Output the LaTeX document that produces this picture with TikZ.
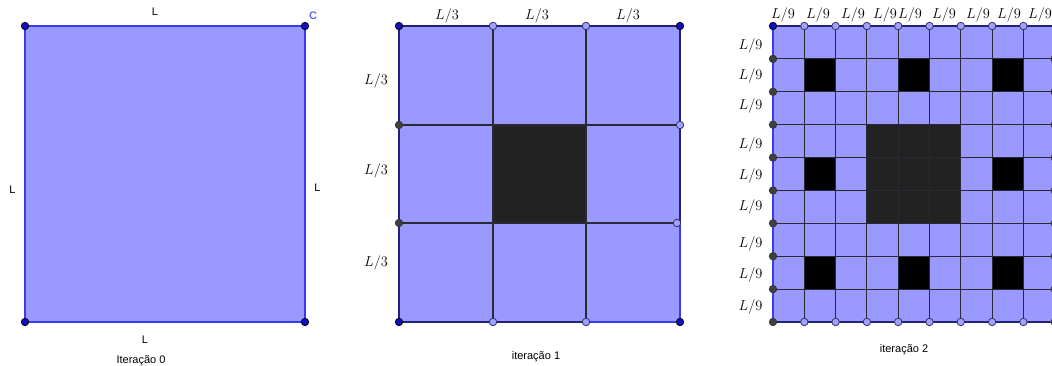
\documentclass[tikz,border=0pt]{standalone}
\usepackage{fontspec}
\setsansfont{Liberation Sans}
\definecolor{fillc}{HTML}{9999FF}
\definecolor{gridc}{HTML}{2A2A36}
\definecolor{edgeblue}{HTML}{3A3AF5}
\definecolor{edgenavy}{HTML}{22227A}
\definecolor{ptbluec}{HTML}{1010C0}
\definecolor{ptlightc}{HTML}{A0A0FF}
\definecolor{ptlighte}{HTML}{333366}
\definecolor{ptdarkc}{HTML}{404040}
\definecolor{darkc}{HTML}{222222}
\definecolor{labc}{HTML}{6666FF}
\begin{document}
\begin{tikzpicture}[x=1pt,y=-1pt,
  sqfill/.style={fill=fillc},
  gridline/.style={draw=gridc, line width=1.1pt},
  blueedge/.style={draw=edgeblue, line width=1.8pt},
  navyedge/.style={draw=edgenavy, line width=1.8pt},
  ptblue/.style={circle, fill=ptbluec, draw=black, line width=0.7pt, inner sep=0pt, minimum size=7.5pt},
  ptlight/.style={circle, fill=ptlightc, draw=ptlighte, line width=0.8pt, inner sep=0pt, minimum size=7.5pt},
  ptdark/.style={circle, fill=ptdarkc, draw=black!80, line width=0.7pt, inner sep=0pt, minimum size=7.5pt},
  sans/.style={font=\sffamily\fontsize{11}{13}\selectfont, inner sep=0pt},
  mlab/.style={font=\fontsize{13.7}{16}\selectfont, inner sep=0pt},
]
\useasboundingbox (0,0) rectangle (1052,366);
\clip (0,0) rectangle (1052,366);

% ---------------- Iteration 0 ----------------
\fill[sqfill] (25,26) rectangle (305,322);
\draw[blueedge] (25,26) rectangle (305,322);
\node[ptblue] (a0) at (25,26) {};
\node[ptblue] (b0) at (305,26) {};
\node[ptblue] (c0) at (25,322) {};
\node[ptblue] (d0) at (305,322) {};
\node[sans] (l0t) at (155,12) {L};
\node[sans, text=labc, font=\sffamily\bfseries\fontsize{11}{13}\selectfont] (l0c) at (313,16) {C};
\node[sans] (l0l) at (12.5,190) {L};
\node[sans] (l0r) at (317.5,188) {L};
\node[sans] (l0b) at (145,340) {L};
\node[sans] (cap0) at (141,360.5) {Iteração 0};

% ---------------- Iteration 1 ----------------
\fill[sqfill] (399,26) rectangle (680,322);
\fill[darkc] (493,125) rectangle (586,223);
\foreach \x in {493,586} \draw[gridline] (\x,26) -- (\x,322);
\foreach \y in {125,223} \draw[gridline] (399,\y) -- (680,\y);
\draw[navyedge] (399,322) -- (399,26) -- (680,26) -- (680,223);
\draw[blueedge] (680,223) -- (680,322);
\draw[navyedge] (399,322) -- (586,322);
\draw[blueedge] (586,322) -- (680,322);
\node[ptblue] (a1) at (399,26) {};
\node[ptblue] (b1) at (680,26) {};
\node[ptblue] (c1) at (399,322) {};
\node[ptblue] (d1) at (680,322) {};
\node[ptlight] (t1a) at (493,26) {};
\node[ptlight] (t1b) at (586,26) {};
\node[ptlight] (b1a) at (493,322) {};
\node[ptlight] (b1b) at (586,322) {};
\node[ptdark] (l1a) at (399,125) {};
\node[ptdark] (l1b) at (399,223) {};
\node[ptlight] (r1a) at (680,125) {};
\node[ptlight] (r1b) at (677,223) {};
\node[mlab] (t1l1) at (447,16) {$L/3$};
\node[mlab] (t1l2) at (537,16) {$L/3$};
\node[mlab] (t1l3) at (628,16) {$L/3$};
\node[mlab] (l1l1) at (376,80.5) {$L/3$};
\node[mlab] (l1l2) at (376,171) {$L/3$};
\node[mlab] (l1l3) at (376,263) {$L/3$};
\node[sans] (cap1) at (536,356.5) {iteração 1};

% ---------------- Iteration 2 ----------------
\fill[sqfill] (773,26) rectangle (1055,322);
\fill[darkc] ({773+3*31.3},{26+3*32.89}) rectangle ({773+6*31.3},{26+6*32.89});
\foreach \i in {1,4,7}{
  \foreach \j in {1,4,7}{
    \ifnum\i=4 \ifnum\j=4 \else
      \fill[black] ({773+\i*31.3},{26+\j*32.89}) rectangle ({773+(\i+1)*31.3},{26+(\j+1)*32.89});
    \fi\else
      \fill[black] ({773+\i*31.3},{26+\j*32.89}) rectangle ({773+(\i+1)*31.3},{26+(\j+1)*32.89});
    \fi
  }
}
\foreach \i in {1,...,9} \draw[gridline] ({773+\i*31.3},26) -- ({773+\i*31.3},322);
\foreach \j in {1,...,8} \draw[gridline] (773,{26+\j*32.89}) -- (1055,{26+\j*32.89});
\draw[navyedge] (773,26) -- (1055,26);
\draw[navyedge] (773,322) -- (1055,322);
\draw[blueedge] (773,26) -- (773,322);
\node[ptblue] (a2) at (773,26) {};
\node[ptdark] (c2) at (773,322) {};
\foreach \i in {1,...,8}{
  \node[ptlight] (t2p\i) at ({773+\i*31.3},26) {};
  \node[ptlight] (b2p\i) at ({773+\i*31.3},322) {};
}
\foreach \j in {1,...,8}{
  \node[ptdark] (l2q\j) at (773,{26+\j*32.89}) {};
  \node[ptdark] (r2q\j) at (1054.7,{26+\j*32.89}) {};
}
\node[ptdark] (d2) at (1054.7,322) {};
\foreach \x [count=\k] in {783,818,853,885,910,944,978,1009,1040}
  \node[mlab] (t2l\k) at (\x,14.5) {$L/9$};
\foreach \y [count=\k] in {46,76,106,145,176,207,244,275,307}
  \node[mlab] (l2l\k) at (750.5,\y) {$L/9$};
\node[sans] (cap2) at (904,350) {iteração 2};
\end{tikzpicture}
\end{document}
